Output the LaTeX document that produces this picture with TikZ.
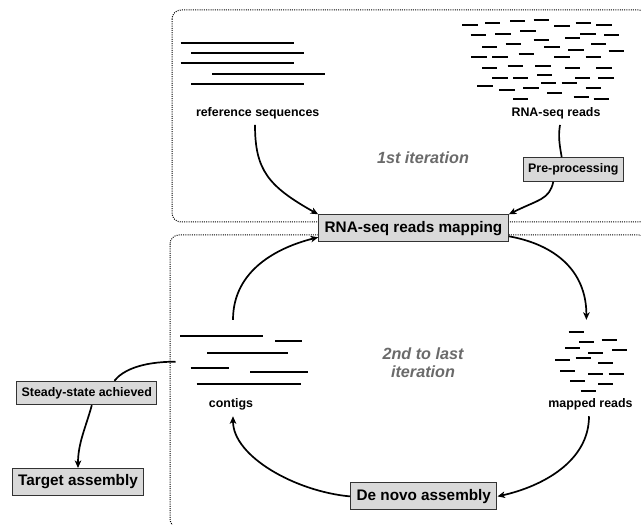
\documentclass[tikz,border=0pt]{standalone}
\usepackage{fontspec}
\setmainfont{Liberation Sans}
\usetikzlibrary{arrows.meta}
\definecolor{boxfill}{HTML}{D9D9D9}
\definecolor{itgray}{HTML}{6A6A6A}
\begin{document}
\begin{tikzpicture}[x=1bp,y=-1bp,
  bigbox/.style={draw=black!80, fill=boxfill, line width=1bp,
    font=\fontsize{15.3bp}{18bp}\selectfont\bfseries,
    inner xsep=6bp, inner ysep=0pt, text height=11bp, text depth=3.2bp, minimum height=27bp},
  smallbox/.style={draw=black!80, fill=boxfill, line width=1bp,
    font=\fontsize{12.4bp}{15bp}\selectfont\bfseries,
    inner xsep=5bp, inner ysep=0pt, text height=8.9bp, text depth=2.6bp, minimum height=23.5bp},
  lbl/.style={font=\fontsize{12.4bp}{15bp}\selectfont\bfseries,
    inner xsep=0pt, inner ysep=6bp, text height=8.9bp, text depth=2.6bp},
  itlbl/.style={font=\fontsize{16.2bp}{18.4bp}\selectfont\bfseries\itshape, text=itgray, align=center},
  conn/.style={line width=1.7bp, draw=black},
  arr/.style={conn, -{Stealth[length=7.5bp,width=6.5bp,inset=2bp]}},
  seq/.style={line width=2.2bp, draw=black},
  iterbox/.style={draw=black, line width=1bp, dash pattern=on 1bp off 1.2bp, rounded corners=9bp},
]
\useasboundingbox (0,0) rectangle (641,525);

% iteration frames
\draw[iterbox] (172,10) rectangle (648,222);
\draw[iterbox] (170,235) rectangle (648,528);

% reference sequences
\draw[seq] (180.7,42.7) -- (294,42.7);
\draw[seq] (191,53.3) -- (304.3,53.3);
\draw[seq] (180.7,63.3) -- (294,63.3);
\draw[seq] (212,73.7) -- (325,73.7);
\draw[seq] (191,84) -- (304.3,84);

% RNA-seq reads
\foreach \x/\y in {462.3/25,485/23.3,510/21.3,533.7/20,554.3/26,575.7/23.3,596.3/25.3,
  470.7/34.7,495.3/33.7,520.3/31.3,533.7/39.7,565/37.7,580.3/33.7,604/35.3,
  482/46.7,505.7/43.7,544.3/46.7,568.3/50,591/43.7,608.7/51.3,
  471.3/57.3,492.3/57.3,518.7/54,554.3/57.3,585.7/57.3,
  482/67.7,507.7/65.7,535.3/65.7,565/67.7,596.3/67.7,
  492.3/78,513/78,537/75,541/83,561.7/83,575/78,598.3/78,
  477.3/86.3,499.3/89.7,523.3/88.3,547/93.3,585.7/88.3,
  513/98.7,573.7/96.7,593.7/98.7}
  \draw[seq] (\x,\y) -- ++(15.3,0);

% contigs
\draw[seq] (180.3,336) -- (263.3,336);
\draw[seq] (275,340.7) -- (302,340.7);
\draw[seq] (207,353.3) -- (288.3,353.3);
\draw[seq] (190.7,367.7) -- (229.3,367.7);
\draw[seq] (250,371.7) -- (307.7,371.7);
\draw[seq] (196.7,384) -- (301,384);

% mapped reads
\foreach \x/\y in {568.7/331.7,579/342,601.7/339.7,565.3/348,588.3/353.3,612/350,
  555.3/360.3,575.7/358.3,598.3/363.3,560/370.7,588.3/373.7,608.7/373.7,
  570.3/381,598.3/384,580.7/391}
  \draw[seq] (\x,\y) -- ++(15,0);

% nodes
\node[lbl] (reftxt) at (257.7,113) {reference sequences};
\node[lbl] (rnatxt) at (556,113) {RNA-seq reads};
\node[itlbl] (it1) at (423,157.5) {1st iteration};
\node[smallbox] (pre) at (573.3,169.5) {Pre-processing};
\node[bigbox] (map) at (413.5,228.3) {RNA-seq reads mapping};
\node[itlbl] (it2) at (423,362.5) {2nd to last\\iteration};
\node[lbl] (ctg) at (231,404.3) {contigs};
\node[lbl] (mr) at (590.5,404.3) {mapped reads};
\node[bigbox] (dn) at (423.8,496.4) {De novo assembly};
\node[smallbox] (ss) at (86.8,393) {Steady-state achieved};
\node[bigbox] (tgt) at (78,482) {Target assembly};
\node[inner sep=0pt, minimum width=114.6bp, minimum height=83.4bp] (ctgpic) at (233,361.7) {};
\node[inner sep=0pt, minimum width=80bp, minimum height=80bp] (mrpic) at (586.4,360) {};

% connectors
\draw[arr] ([xshift=-2.7bp]reftxt.south) .. controls +(0,45) and +(-50,-28) .. (map.north west);
\draw[conn] ([xshift=4bp]rnatxt.south) .. controls +(-2,12) and +(-2,-12) .. ([xshift=-11.6bp]pre.north);
\draw[arr] ([xshift=-20bp]pre.south) .. controls +(-4,18) and +(30,-15) .. (map.north east);
\draw[arr] ([yshift=6bp]map.south east) .. controls +(45,8) and +(0,-50) .. (mrpic.north);
\draw[arr] ([xshift=-1.5bp]mr.south) .. controls +(0,45) and +(45,-10) .. (dn.east);
\draw[arr] (dn.west) .. controls +(-55,-5) and +(0,40) .. ([xshift=2bp]ctg.south);
\draw[arr] (ctgpic.north) .. controls +(0,-50) and +(-40,10) .. ([yshift=5bp]map.south west);
\draw[conn] (ctgpic.west) .. controls +(-35,0) and +(8,-10) .. ([xshift=27.6bp]ss.north);
\draw[arr] ([xshift=5bp]ss.south) .. controls +(-6,22) and +(0,-25) .. (tgt.north);
\end{tikzpicture}
\end{document}
